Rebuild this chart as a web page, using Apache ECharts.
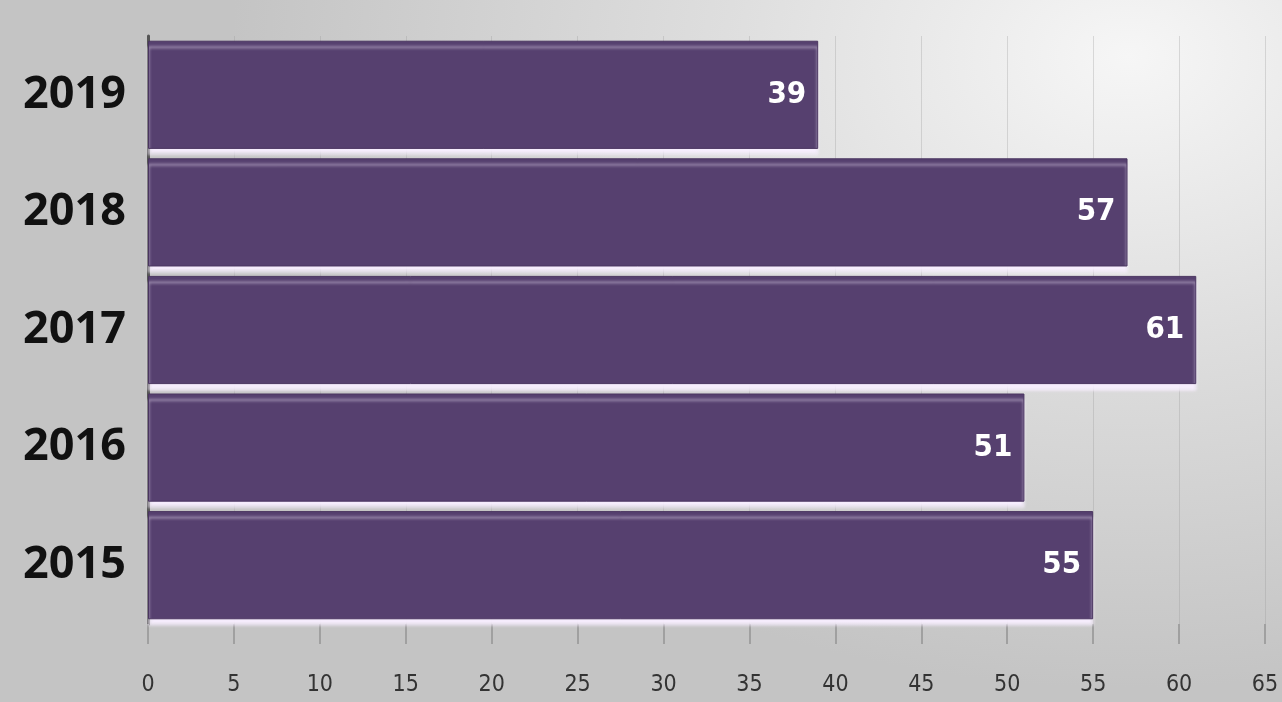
<!DOCTYPE html>
<html lang="en">
  <head>
    <meta charset="UTF-8" />
    <title>Bars by year</title>
    <style>
      html, body { margin: 0; padding: 0; }
      #chart {
        width: 1282px;
        height: 702px;
        background: radial-gradient(ellipse 70% 90% at 88% 8%, #f6f6f6 0%, #dedede 45%, #c4c4c4 100%);
      }
    </style>
  </head>
  <body>
    <div id="chart"></div>

    <script src="https://cdn.jsdelivr.net/npm/echarts@6/dist/echarts.min.js"></script>
    <script>
      // data (bottom to top)
      const years = ['2015', '2016', '2017', '2018', '2019'];
      const values = [55, 51, 61, 57, 39];
      const xTicks = { min: 0, max: 65, step: 5 };

      const myChart = echarts.init(document.getElementById('chart'));

      const option = {
        grid: { left: 148, right: 17, top: 36, bottom: 78 },
        xAxis: {
          type: 'value',
          min: xTicks.min,
          max: xTicks.max,
          interval: xTicks.step,
          axisLine: { show: false },
          axisTick: { show: true, length: 20, lineStyle: { color: '#a0a0a0', width: 2 } },
          axisLabel: {
            margin: 50,
            color: '#333',
            fontSize: 23,
            fontFamily: 'DejaVu Sans Condensed, Liberation Sans Narrow, sans-serif'
          },
          splitLine: { show: true, lineStyle: { color: 'rgba(150,150,150,0.3)', width: 1 } }
        },
        yAxis: {
          type: 'category',
          data: years,
          axisLine: { show: true, lineStyle: { color: '#555', width: 3 } },
          axisTick: { show: false },
          axisLabel: {
            margin: 22,
            color: '#111',
            fontSize: 45,
            fontWeight: 'bold',
            fontFamily: 'Open Sans, Liberation Sans, sans-serif'
          }
        },
        series: [
          {
            type: 'bar',
            data: values,
            barCategoryGap: '8%',
            itemStyle: {
              color: '#56406f',
              borderColor: '#4a3560',
              borderWidth: 1,
              shadowColor: 'rgba(248,238,255,0.95)',
              shadowOffsetY: 6,
              shadowBlur: 3
            },
            label: {
              show: true,
              position: 'insideRight',
              distance: 12,
              color: '#fff',
              fontSize: 31,
              fontWeight: 'bold',
              fontFamily: 'DejaVu Sans Condensed, Liberation Sans Narrow, sans-serif'
            }
          }
        ]
      };

      myChart.setOption(option);
    </script>
  </body>
</html>
